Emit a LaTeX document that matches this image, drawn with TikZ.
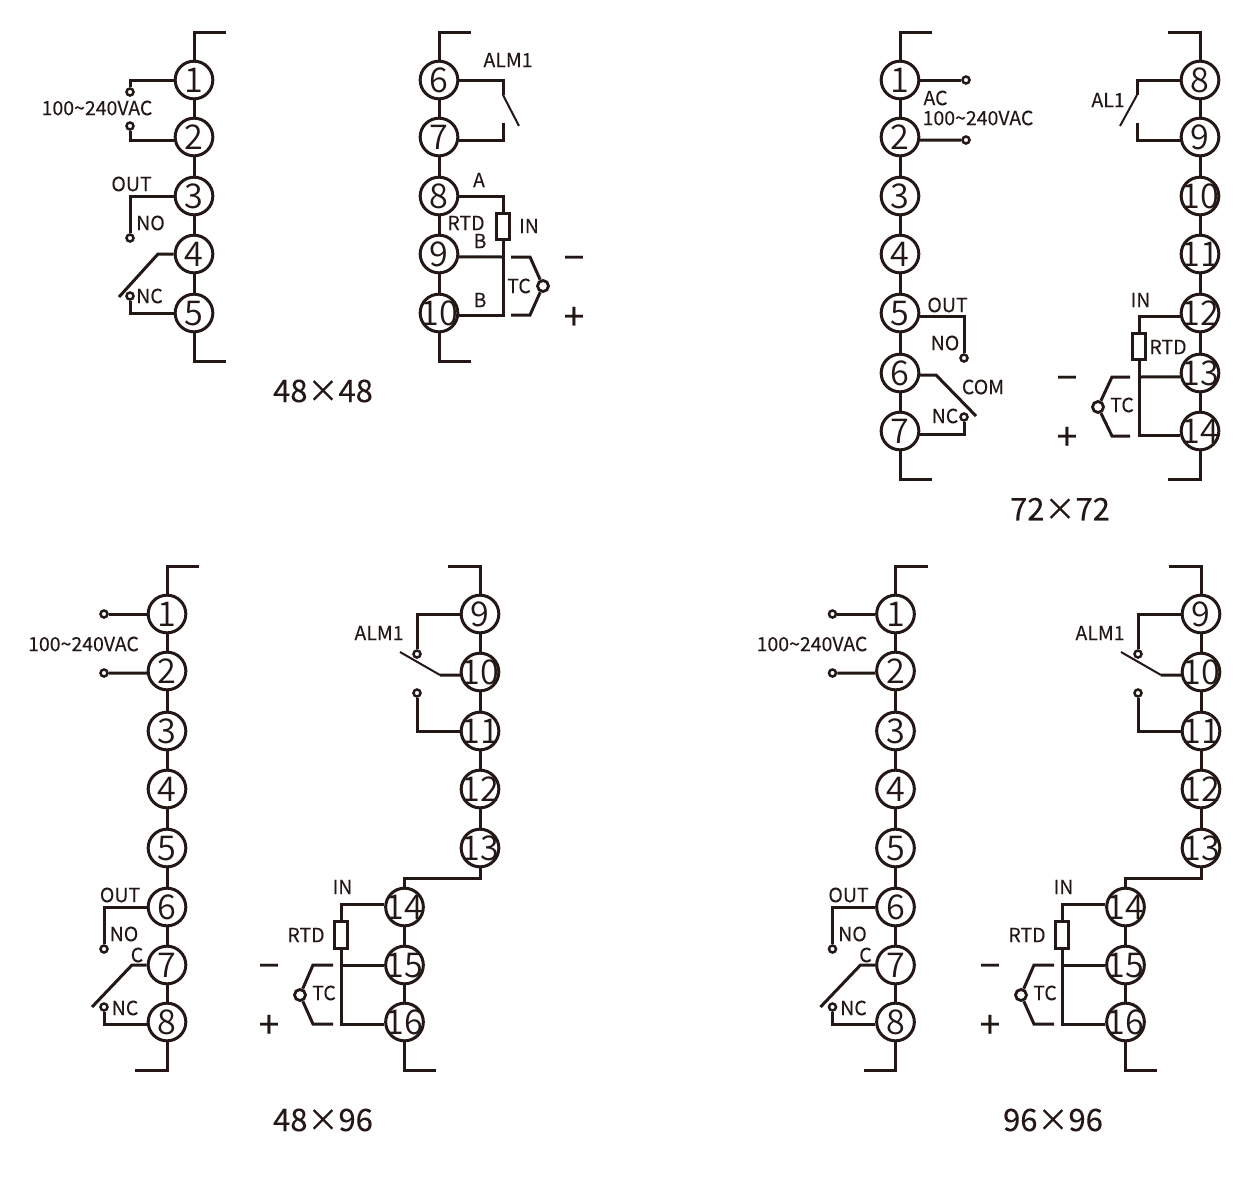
\documentclass[tikz,border=0pt]{standalone}
\usepackage{fontspec}
\setmainfont{Noto Sans CJK SC}[FakeBold=0.15]
\IfFontExistsTF{Noto Sans CJK SC DemiLight}{\newfontfamily\numfont{Noto Sans CJK SC DemiLight}}{\newfontfamily\numfont{Noto Sans CJK SC}}
\newfontfamily\signfont{Noto Sans CJK SC}[FakeBold=0.5]
\definecolor{ink}{HTML}{231815}
\newcommand{\termnum}[1]{\makebox[0pt]{\raisebox{-.36em}[0pt][0pt]{#1}}}
\tikzset{
  term/.style={circle,draw=ink,line width=1.8pt,minimum size=22.6pt,inner sep=0pt,font=\numfont\fontsize{20.5}{21}\selectfont,text=ink},
  wire/.style={draw=ink,line width=1.8pt},
  blade/.style={draw=ink,line width=1.2pt},
  dotend/.style={circle,draw=ink,line width=1.5pt,minimum size=4.2pt,inner sep=0pt},
  tcend/.style={circle,draw=ink,line width=1.7pt,minimum size=6.6pt,inner sep=0pt},
  res/.style={rectangle,draw=ink,line width=1.7pt,minimum width=7.6pt,minimum height=16pt,inner sep=0pt},
  lab/.style={inner sep=0pt,text=ink,font=\fontsize{11.7}{12}\selectfont},
  sign/.style={inner sep=0pt,text=ink,text height=16.5pt,text depth=0pt,font=\signfont\fontsize{22}{22}\selectfont},
  ttl/.style={inner sep=0pt,text=ink,font=\fontsize{18.6}{20}\selectfont},
}
\begin{document}
\begin{tikzpicture}[x=.6pt,y=-.6pt]
  \useasboundingbox (0,0) rectangle (1250,1178);

  % 48x48
  \foreach \n/\yy in {1/80,2/137,3/196,4/254,5/313}
    \node[term] (A\n) at (194,\yy) {\termnum{\n}};
  \foreach \n/\yy in {6/80,7/137,8/196,9/254,10/313}
    \node[term] (A\n) at (439,\yy) {\termnum{\n}};
  \foreach \a/\b in {1/2,2/3,3/4,4/5,6/7,7/8,8/9,9/10}
    \draw[wire] (A\a) -- (A\b);
  \coordinate (Atl) at (226,32);
  \coordinate (Abl) at (226,361);
  \coordinate (Atr) at (471,32);
  \coordinate (Abr) at (471,361);
  \draw[wire] (A1) |- (Atl);
  \draw[wire] (A5) |- (Abl);
  \draw[wire] (A6) |- (Atr);
  \draw[wire] (A10) |- (Abr);
  \node[dotend] (Ad1) at (130,92) {};
  \node[dotend] (Ad2) at (130,126) {};
  \node[dotend] (Ad3) at (130,238) {};
  \node[dotend] (Ad5) at (130,296) {};
  \draw[wire] (A1.west) -| (Ad1);
  \draw[wire] (A2.189) -| (Ad2);
  \draw[wire] (A3.west) -| (Ad3);
  \draw[wire] (A5.west) -| (Ad5);
  \coordinate (Ak4) at (158,254);
  \coordinate (Ae4) at (119,297);
  \draw[wire] (A4.west) -- (Ak4) -- (Ae4);
  \coordinate (As6) at (503,95);
  \coordinate (As7) at (503,123);
  \coordinate (Ae6) at (519,126);
  \draw[wire] (A6.east) -| (As6);
  \draw[wire] (A7.-9) -| (As7);
  \draw[blade] (As6) -- (Ae6);
  \node[res] (Ar) at (503,226.5) {};
  \coordinate (Am9) at (503,257);
  \draw[wire] (A8.east) -| (Ar);
  \draw[wire] (A10.-6) -| (Ar);
  \draw[wire] (A9.-8) -- (Am9);
  \node[tcend] (At) at (543,286) {};
  \coordinate (At1) at (511,257);
  \coordinate (At2) at (530,257);
  \coordinate (At3) at (530,315);
  \coordinate (At4) at (511,315);
  \draw[wire] (At1) -- (At2) -- (At);
  \draw[wire] (At4) -- (At3) -- (At);
  \node[lab] (Al1) at (97,108) {100\textasciitilde240VAC};
  \node[lab] (Al2) at (131.5,184) {OUT};
  \node[lab] (Al3) at (150.5,223) {NO};
  \node[lab] (Al4) at (149.5,296) {NC};
  \node[lab] (Al5) at (508,60) {ALM1};
  \node[lab] (Al6) at (479,180) {A};
  \node[lab] (Al7) at (466,223) {RTD};
  \node[lab] (Al8) at (480,241) {B};
  \node[lab] (Al9) at (529,226) {IN};
  \node[lab] (Al10) at (519,286) {TC};
  \node[lab] (Al11) at (480,300) {B};
  \node[sign] (Am) at (574,257) {−};
  \node[sign] (Ap) at (574,316) {+};
  \node[ttl] (Attl) at (323,391) {48×48};

  % 72x72
  \foreach \n/\yy in {1/80,2/137,3/196,4/254,5/313,6/373,7/431}
    \node[term] (B\n) at (900,\yy) {\termnum{\n}};
  \foreach \n/\yy in {8/80,9/137,10/196,11/254,12/313,13/373,14/431}
    \node[term] (B\n) at (1200,\yy) {\termnum{\n}};
  \foreach \a/\b in {1/2,2/3,3/4,4/5,5/6,6/7,8/9,9/10,10/11,11/12,12/13,13/14}
    \draw[wire] (B\a) -- (B\b);
  \coordinate (Btl) at (932,32);
  \coordinate (Bbl) at (932,479);
  \coordinate (Btr) at (1168,32);
  \coordinate (Bbr) at (1168,479);
  \draw[wire] (B1) |- (Btl);
  \draw[wire] (B7) |- (Bbl);
  \draw[wire] (B8) |- (Btr);
  \draw[wire] (B14) |- (Bbr);
  \node[dotend] (Bd1) at (966,80) {};
  \node[dotend] (Bd2) at (966,140) {};
  \node[dotend] (Bd5) at (964,358) {};
  \node[dotend] (Bd7) at (964,417) {};
  \draw[wire] (B1.east) -- (Bd1);
  \draw[wire] (B2.-9) -- (Bd2);
  \draw[wire] (B5.-9) -| (Bd5);
  \draw[wire] (B7.-9) -| (Bd7);
  \coordinate (Bk6) at (936,375);
  \coordinate (Be6) at (976,416);
  \draw[wire] (B6.-6) -- (Bk6) -- (Be6);
  \coordinate (Bs8) at (1137,95);
  \coordinate (Bs9) at (1137,123);
  \coordinate (Be8) at (1120,126);
  \draw[wire] (B8.west) -| (Bs8);
  \draw[wire] (B9.189) -| (Bs9);
  \draw[blade] (Bs8) -- (Be8);
  \node[res] (Br) at (1139,346.5) {};
  \coordinate (Bm13) at (1139,377);
  \draw[wire] (B12.189) -| (Br);
  \draw[wire] (B14.194) -| (Br);
  \draw[wire] (B13.191) -- (Bm13);
  \node[tcend] (Bt) at (1098,407) {};
  \coordinate (Bt1) at (1130,377);
  \coordinate (Bt2) at (1112,377);
  \coordinate (Bt3) at (1112,436);
  \coordinate (Bt4) at (1130,436);
  \draw[wire] (Bt1) -- (Bt2) -- (Bt);
  \draw[wire] (Bt4) -- (Bt3) -- (Bt);
  \node[lab] (Bl1) at (935.5,98) {AC};
  \node[lab] (Bl2) at (978,118) {100\textasciitilde240VAC};
  \node[lab] (Bl3) at (947.5,305) {OUT};
  \node[lab] (Bl4) at (945,343) {NO};
  \node[lab] (Bl5) at (983,387) {COM};
  \node[lab] (Bl6) at (945,416) {NC};
  \node[lab] (Bl7) at (1108,100) {AL1};
  \node[lab] (Bl8) at (1140.5,300) {IN};
  \node[lab] (Bl9) at (1168,347) {RTD};
  \node[lab] (Bl10) at (1122,405) {TC};
  \node[sign] (Bm) at (1067,377) {−};
  \node[sign] (Bp) at (1067,436) {+};
  \node[ttl] (Bttl) at (1060,509) {72×72};

  % 48x96 and 96x96
  \foreach \pnl/\shl/\shr/\shc/\ttltxt in {C/0/0/0/48×96,D/728.5/721/730/96×96} {
    \foreach \n/\yy in {1/614,2/671,3/731,4/789,5/848,6/907,7/965,8/1022}
      \node[term] (\pnl\n) at (167+\shl,\yy) {\termnum{\n}};
    \foreach \n/\yy in {9/614,10/672,11/731,12/789,13/848}
      \node[term] (\pnl\n) at (480+\shr,\yy) {\termnum{\n}};
    \foreach \n/\yy in {14/907,15/965,16/1022}
      \node[term] (\pnl\n) at (404.5+\shr,\yy) {\termnum{\n}};
    \foreach \a/\b in {1/2,2/3,3/4,4/5,5/6,6/7,7/8,9/10,10/11,11/12,12/13,14/15,15/16}
      \draw[wire] (\pnl\a) -- (\pnl\b);
    \coordinate (\pnl tl) at (199+\shl,566);
    \coordinate (\pnl bl) at (135+\shl,1070);
    \coordinate (\pnl tr) at (448+\shr,566);
    \coordinate (\pnl br) at (436+\shr,1070);
    \coordinate (\pnl jog) at (480+\shr,878);
    \draw[wire] (\pnl1) |- (\pnl tl);
    \draw[wire] (\pnl8) |- (\pnl bl);
    \draw[wire] (\pnl9) |- (\pnl tr);
    \draw[wire] (\pnl16) |- (\pnl br);
    \draw[wire] (\pnl13) -- (\pnl jog) -| (\pnl14);
    % power and output
    \node[dotend] (\pnl d1) at (104+\shl,614) {};
    \node[dotend] (\pnl d2) at (104+\shl,673) {};
    \node[dotend] (\pnl d6) at (104+\shl,949) {};
    \node[dotend] (\pnl d8) at (104+\shl,1007) {};
    \draw[wire] (\pnl1.west) -- (\pnl d1);
    \draw[wire] (\pnl2.186) -- (\pnl d2);
    \draw[wire] (\pnl6.west) -| (\pnl d6);
    \draw[wire] (\pnl8.186) -| (\pnl d8);
    \coordinate (\pnl k7) at (132+\shl,965);
    \coordinate (\pnl e7) at (92+\shl,1007);
    \draw[wire] (\pnl7.west) -- (\pnl k7) -- (\pnl e7);
    % alarm
    \node[dotend] (\pnl d9) at (417+\shr,654) {};
    \node[dotend] (\pnl d11) at (417+\shr,693) {};
    \coordinate (\pnl k10) at (440+\shr,675);
    \coordinate (\pnl e10) at (400+\shr,652);
    \draw[wire] (\pnl9.west) -| (\pnl d9);
    \draw[wire] (\pnl11.west) -| (\pnl d11);
    \draw[wire] (\pnl10.189) -- (\pnl k10);
    \draw[blade] (\pnl k10) -- (\pnl e10);
    % input
    \node[res] (\pnl r) at (341+\shr,935) {};
    \coordinate (\pnl m15) at (341+\shr,965);
    \draw[wire] (\pnl14.174) -| (\pnl r);
    \draw[wire] (\pnl16.186) -| (\pnl r);
    \draw[wire] (\pnl15.west) -- (\pnl m15);
    \node[tcend] (\pnl t) at (300+\shr,995) {};
    \coordinate (\pnl t1) at (333+\shr,965);
    \coordinate (\pnl t2) at (313+\shr,965);
    \coordinate (\pnl t3) at (313+\shr,1024);
    \coordinate (\pnl t4) at (333+\shr,1024);
    \draw[wire] (\pnl t1) -- (\pnl t2) -- (\pnl t);
    \draw[wire] (\pnl t4) -- (\pnl t3) -- (\pnl t);
    \node[lab] (\pnl l1) at (83.5+\shl,644) {100\textasciitilde240VAC};
    \node[lab] (\pnl l2) at (120+\shl,895) {OUT};
    \node[lab] (\pnl l3) at (124+\shl,934) {NO};
    \node[lab] (\pnl l4) at (137+\shl,955) {C};
    \node[lab] (\pnl l5) at (125+\shl,1008) {NC};
    \node[lab] (\pnl l6) at (379+\shr,633) {ALM1};
    \node[lab] (\pnl l7) at (342.5+\shr,887) {IN};
    \node[lab] (\pnl l8) at (306+\shr,935) {RTD};
    \node[lab] (\pnl l9) at (324+\shr,993) {TC};
    \node[sign] (\pnl m) at (269+\shr,965) {−};
    \node[sign] (\pnl p) at (269+\shr,1024) {+};
    \node[ttl] (\pnl ttl) at (323+\shc,1120) {\ttltxt};
  }
\end{tikzpicture}
\end{document}
